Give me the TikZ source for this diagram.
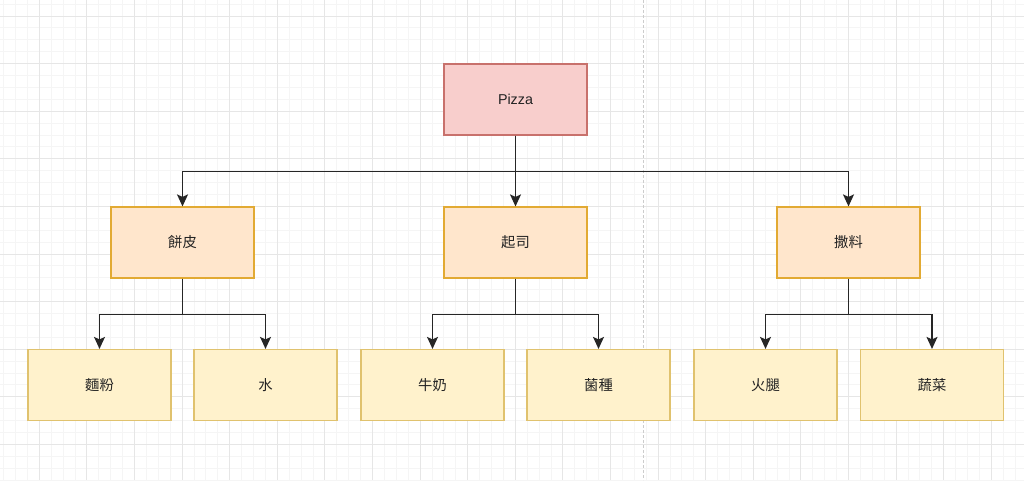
\documentclass[tikz,border=0pt]{standalone}
\usepackage{fontspec}
\setmainfont{Liberation Sans}
\newfontfamily\cjk{Noto Sans CJK TC}
\usetikzlibrary{arrows.meta}
\definecolor{pfill}{HTML}{F8CECC}
\definecolor{pline}{HTML}{C8716C}
\definecolor{ofill}{HTML}{FFE6CC}
\definecolor{oline}{HTML}{E2AA33}
\definecolor{yfill}{HTML}{FFF2CC}
\definecolor{yline}{HTML}{E0C26E}
\definecolor{gminor}{HTML}{F5F5F5}
\definecolor{gmajor}{HTML}{E6E6E6}
\definecolor{pageline}{HTML}{CCCCCC}
\definecolor{txt}{HTML}{222222}
\tikzset{
  box/.style={rectangle, minimum width=143pt, minimum height=71pt, line width=1.2pt, inner sep=0pt, text=txt, font=\fontsize{14.3}{16}\selectfont},
  rootbox/.style={box, fill=pfill, draw=pline},
  midbox/.style={box, fill=ofill, draw=oline},
  leafbox/.style={box, fill=yfill, draw=yline},
  conn/.style={draw=black!85, line width=1.2pt, -{Stealth[length=12pt,width=11pt,inset=2.5pt]}},
  minorgrid/.style={draw=gminor, line width=0.9pt},
  majorgrid/.style={draw=gmajor, line width=0.9pt},
}
\begin{document}
\begin{tikzpicture}[x=1pt,y=-1pt]
\useasboundingbox (0,0) rectangle (1024,480);
\fill[white] (0,0) rectangle (1024,480);
% grid
\foreach \i in {0,...,86} \draw[minorgrid] ({3.6+11.9*\i},0) -- ++(0,480);
\foreach \i in {0,...,40} \draw[minorgrid] (0,{4.1+11.9*\i}) -- ++(1024,0);
\foreach \i in {0,...,20} \draw[majorgrid] ({39.3+47.6*\i},0) -- ++(0,480);
\foreach \i in {0,...,9} \draw[majorgrid] (0,{16+47.6*\i}) -- ++(1024,0);
\draw[pageline, line width=0.9pt, dash pattern=on 3pt off 2pt] (643,0) -- (643,480);
% nodes
\node[rootbox] (pizza) at (515.5,99.5) {Pizza};
\node[midbox] (bing) at (182.5,242.5) {\cjk 餅皮};
\node[midbox] (qisi) at (515.5,242.5) {\cjk 起司};
\node[midbox] (saliao) at (848.5,242.5) {\cjk 撒料};
\node[leafbox] (mianfen) at (99.5,385) {\cjk 麵粉};
\node[leafbox] (shui) at (265.5,385) {\cjk 水};
\node[leafbox] (niunai) at (432.5,385) {\cjk 牛奶};
\node[leafbox] (junzhong) at (598.5,385) {\cjk 菌種};
\node[leafbox] (huotui) at (765.5,385) {\cjk 火腿};
\node[leafbox] (shucai) at (932,385) {\cjk 蔬菜};
% connectors
\draw[conn] (pizza.south) -- ++(0,35.5) -| (bing.north);
\draw[conn] (pizza.south) -- (qisi.north);
\draw[conn] (pizza.south) -- ++(0,35.5) -| (saliao.north);
\draw[conn] (bing.south) -- ++(0,36) -| (mianfen.north);
\draw[conn] (bing.south) -- ++(0,36) -| (shui.north);
\draw[conn] (qisi.south) -- ++(0,36) -| (niunai.north);
\draw[conn] (qisi.south) -- ++(0,36) -| (junzhong.north);
\draw[conn] (saliao.south) -- ++(0,36) -| (huotui.north);
\draw[conn] (saliao.south) -- ++(0,36) -| (shucai.north);
\end{tikzpicture}
\end{document}
